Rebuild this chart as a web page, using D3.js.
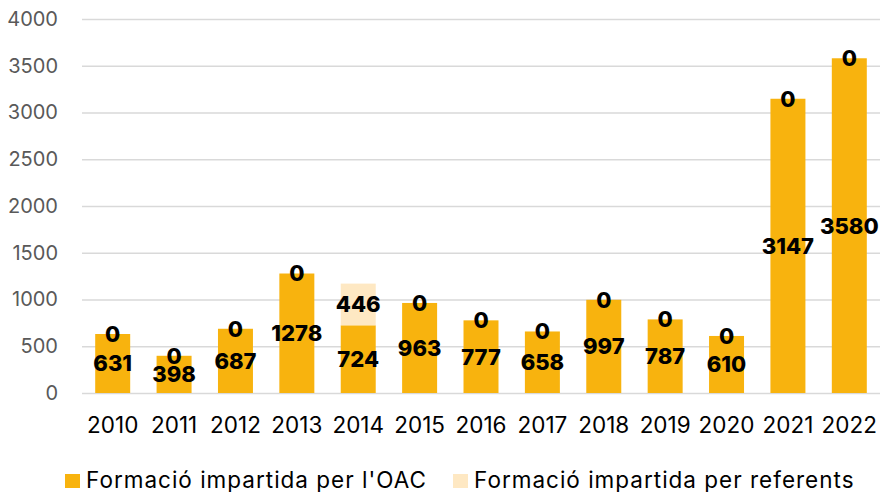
<!DOCTYPE html>
<html>
<head>
<meta charset="utf-8">
<script src="https://cdn.jsdelivr.net/npm/d3@7"></script>
<style>
	body { margin: 0; background: #fff; }
	svg text { font-family: Inter, "Noto Sans", sans-serif; }
</style>
</head>
<body>
<svg id="chart" width="890" height="492"></svg>
<script>
// data
const years = ["2010", "2011", "2012", "2013", "2014", "2015", "2016", "2017", "2018", "2019", "2020", "2021", "2022"];
const oac = [631, 398, 687, 1278, 724, 963, 777, 658, 997, 787, 610, 3147, 3580];
const referents = [0, 0, 0, 0, 446, 0, 0, 0, 0, 0, 0, 0, 0];
const seriesNames = ["Formació impartida per l'OAC", "Formació impartida per referents"];
const yTicks = [0, 500, 1000, 1500, 2000, 2500, 3000, 3500, 4000];

const colors = ["#F8B30E", "#FEE8C3"];

const svg = d3.select("#chart");
const margin = {top: 19, right: 10, bottom: 99, left: 82};
const width = 890 - margin.left - margin.right;
const height = 492 - margin.top - margin.bottom;

const g = svg.append("g")
	.attr("transform", `translate(${margin.left},${margin.top})`);

const x = d3.scaleBand()
	.domain(years)
	.range([0, width])
	.paddingInner(0.43)
	.paddingOuter(0.215);

const y = d3.scaleLinear()
	.domain([0, 4000])
	.range([height, 0]);

// gridlines + y labels
const yAxis = d3.axisLeft(y)
	.tickValues(yTicks)
	.tickFormat(d3.format("d"))
	.tickSizeInner(-width)
	.tickSizeOuter(0)
	.tickPadding(24);

g.append("g")
	.attr("class", "axis axis--y")
	.call(yAxis)
	.call(s => s.select(".domain").remove())
	.call(s => s.selectAll("line").attr("stroke", "#d9d9d9").attr("stroke-width", 1.5))
	.call(s => s.selectAll("text")
		.attr("fill", "#595959")
		.style("font-size", "20px"));

// x labels
const xAxis = d3.axisBottom(x).tickSize(0).tickPadding(24);
g.append("g")
	.attr("class", "axis axis--x")
	.attr("transform", `translate(0,${height})`)
	.call(xAxis)
	.call(s => s.select(".domain").remove())
	.call(s => s.selectAll("text")
		.attr("fill", "#000")
		.style("font-size", "22.5px"));

// stacked bars
const rows = years.map((yr, i) => ({year: yr, oac: oac[i], ref: referents[i]}));
const stack = d3.stack().keys(["oac", "ref"]);
const layers = stack(rows);

const layerG = g.selectAll("g.layer")
	.data(layers)
	.enter()
	.append("g")
	.attr("class", "layer")
	.attr("fill", (d, i) => colors[i]);

layerG.selectAll("rect")
	.data(d => d)
	.enter()
	.append("rect")
	.attr("x", d => x(d.data.year))
	.attr("width", x.bandwidth())
	.attr("y", d => y(d[1]))
	.attr("height", d => y(d[0]) - y(d[1]));

// value labels, centered in each segment
layers.forEach(layer => {
	g.append("g")
		.selectAll("text")
		.data(layer)
		.enter()
		.append("text")
		.attr("x", d => x(d.data.year) + x.bandwidth() / 2)
		.attr("y", d => (y(d[0]) + y(d[1])) / 2)
		.attr("dy", "0.36em")
		.attr("text-anchor", "middle")
		.attr("fill", "#000")
		.style("font-size", "22px")
		.style("font-weight", "800")
		.text(d => d[1] - d[0]);
});

// legend
const legend = svg.append("g")
	.attr("transform", "translate(0,481)");

const legendX = [65, 453];
seriesNames.forEach((name, i) => {
	const item = legend.append("g").attr("transform", `translate(${legendX[i]},0)`);
	item.append("rect")
		.attr("x", 0).attr("y", -7)
		.attr("width", 15).attr("height", 14)
		.attr("fill", colors[i]);
	item.append("text")
		.attr("x", 21)
		.attr("y", 7)
		.attr("fill", "#000")
		.style("font-size", "22.5px")
		.style("letter-spacing", "1px")
		.text(name);
});
</script>
</body>
</html>
